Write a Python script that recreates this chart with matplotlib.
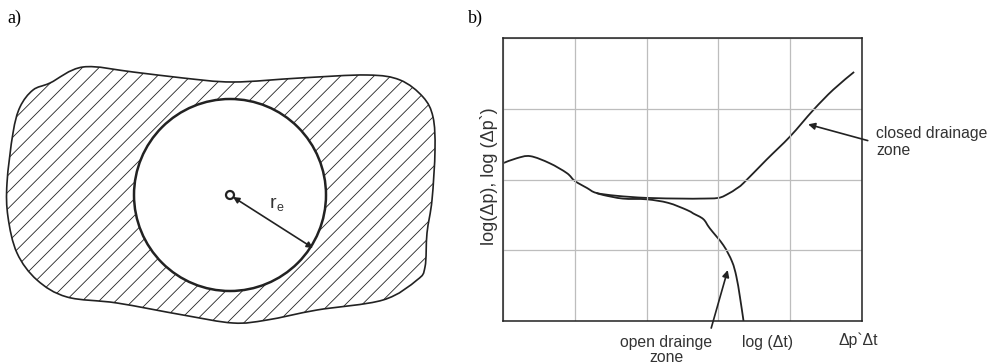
import numpy as np
import matplotlib
matplotlib.use("Agg")
from matplotlib import pyplot as plt
from matplotlib.path import Path
from matplotlib.patches import PathPatch, Circle

plt.rcParams['font.family'] = ['Liberation Sans', 'DejaVu Sans']
plt.rcParams['hatch.linewidth'] = 0.6

# --- panel a: outline of the drainage area (pixel units, y downwards)
blob_x = [50, 83, 133, 183, 233, 300, 367, 400, 423, 433, 435, 432, 427, 425,
          417, 383, 317, 267, 233, 183, 117, 67, 37, 17, 8, 7, 13, 20, 33]
blob_y = [83, 67, 72, 78, 82, 78, 75, 80, 97, 117, 150, 200, 233, 267,
          280, 300, 310, 320, 323, 315, 303, 297, 280, 253, 217, 183, 133, 107, 90]
well_xy = (230, 195)
well_radius = 96
re_tip = (313, 248)

# --- panel b: diagnostic curves (log-log grid units)
closed_x = [0.00, 0.19, 0.38, 0.65, 0.89, 1.00, 1.17, 1.30, 1.58, 2.00, 2.51,
            2.74, 3.00, 3.14, 3.25, 3.35, 3.67, 4.00, 4.32, 4.60, 4.89]
closed_y = [2.23, 2.30, 2.33, 2.23, 2.09, 1.98, 1.88, 1.81, 1.77, 1.74, 1.73,
            1.73, 1.74, 1.80, 1.87, 1.95, 2.28, 2.61, 2.98, 3.27, 3.52]
open_x = [1.30, 1.40, 1.67, 2.00, 2.30, 2.56, 2.65, 2.79, 2.88, 3.07, 3.19,
          3.25, 3.30, 3.35]
open_y = [1.81, 1.78, 1.73, 1.72, 1.67, 1.57, 1.52, 1.44, 1.31, 1.07, 0.84,
          0.63, 0.34, 0.00]


def smoothPath(xs, ys, closed=False):
	# bezier path through the points (catmull-rom tangents)
	p = np.column_stack([xs, ys]).astype(float)
	n = len(p)
	if closed:
		p = np.vstack([p, p[:1]])
	verts = [p[0]]
	codes = [Path.MOVETO]
	for i in range(len(p) - 1):
		if closed:
			a = p[(i - 1) % n]
			d = p[(i + 2) % n]
		else:
			a = p[max(i - 1, 0)]
			d = p[min(i + 2, n - 1)]
		b, c = p[i], p[i + 1]
		verts += [b + (c - a) / 6.0, c - (d - b) / 6.0, c]
		codes += [Path.CURVE4] * 3
	if closed:
		verts.append(p[0])
		codes.append(Path.CLOSEPOLY)
	return Path(verts, codes)


W, H = 995, 364
fig = plt.figure(figsize=(W / 100, H / 100), dpi=100)

# panel a
ax1 = fig.add_axes([0, 0, 480 / W, 1])
ax1.set_xlim(0, 480)
ax1.set_ylim(H, 0)
ax1.axis('off')
ax1.add_patch(PathPatch(smoothPath(blob_x, blob_y, closed=True), facecolor='white',
                        edgecolor='#222222', lw=1.2, hatch='//'))
ax1.add_patch(Circle(well_xy, well_radius, facecolor='white', edgecolor='#222222', lw=1.8))
ax1.add_patch(Circle(well_xy, 4, facecolor='white', edgecolor='#222222', lw=1.6))
ax1.annotate('', xy=re_tip, xytext=(well_xy[0] + 3, well_xy[1] + 2),
             arrowprops=dict(arrowstyle='<|-|>', color='#222222', lw=1.2,
                             mutation_scale=9, shrinkA=0, shrinkB=0))
ax1.text(270, 204, 'r', fontsize=14, color='#333333', va='center')
ax1.text(277, 208, 'e', fontsize=9, color='#333333', va='center')
ax1.text(7, 18, 'a)', fontsize=13, family='Liberation Serif', va='center')

# panel b
ax2 = fig.add_axes([503 / W, (H - 321) / H, (862 - 503) / W, (321 - 38) / H])
ax2.set_xlim(0, 5)
ax2.set_ylim(0, 4)
ax2.set_xticks(range(6))
ax2.set_yticks(range(5))
ax2.tick_params(length=0, labelbottom=False, labelleft=False)
ax2.grid(True, color='#bdbdbd', lw=0.9)
for s in ax2.spines.values():
	s.set_color('#222222')
	s.set_linewidth(1.1)
for xs, ys in [(closed_x, closed_y), (open_x, open_y)]:
	ax2.add_patch(PathPatch(smoothPath(xs, ys), facecolor='none',
	                        edgecolor='#222222', lw=1.3))

arrow = dict(arrowstyle='-|>', color='#222222', lw=1.2, mutation_scale=10,
             shrinkA=0, shrinkB=0)
ax2.annotate('', xy=(4.25, 2.78), xytext=(5.08, 2.55), arrowprops=arrow,
             annotation_clip=False)
ax2.annotate('', xy=(3.13, 0.72), xytext=(2.90, -0.10), arrowprops=arrow,
             annotation_clip=False)

fig.text(876 / W, 1 - 142 / H, 'closed drainage\nzone', fontsize=11.3,
         color='#333333', va='center', ha='left', linespacing=1.15)
fig.text(666 / W, 1 - 350 / H, 'open drainge\nzone', fontsize=11.3,
         color='#333333', va='center', ha='center', linespacing=1.05)
fig.text(767 / W, 1 - 342 / H, 'log (\u0394t)', fontsize=11.3,
         color='#333333', va='center', ha='center')
fig.text(858 / W, 1 - 340 / H, '\u0394p`\u0394t', fontsize=11.3,
         color='#333333', va='center', ha='center')
fig.text(489 / W, 1 - 176 / H, 'log(\u0394p), log (\u0394p`)', fontsize=13,
         color='#333333', va='center', ha='center', rotation=90)
fig.text(468 / W, 1 - 18 / H, 'b)', fontsize=13, family='Liberation Serif',
         va='center')

fig.savefig('out.png', dpi=100)
